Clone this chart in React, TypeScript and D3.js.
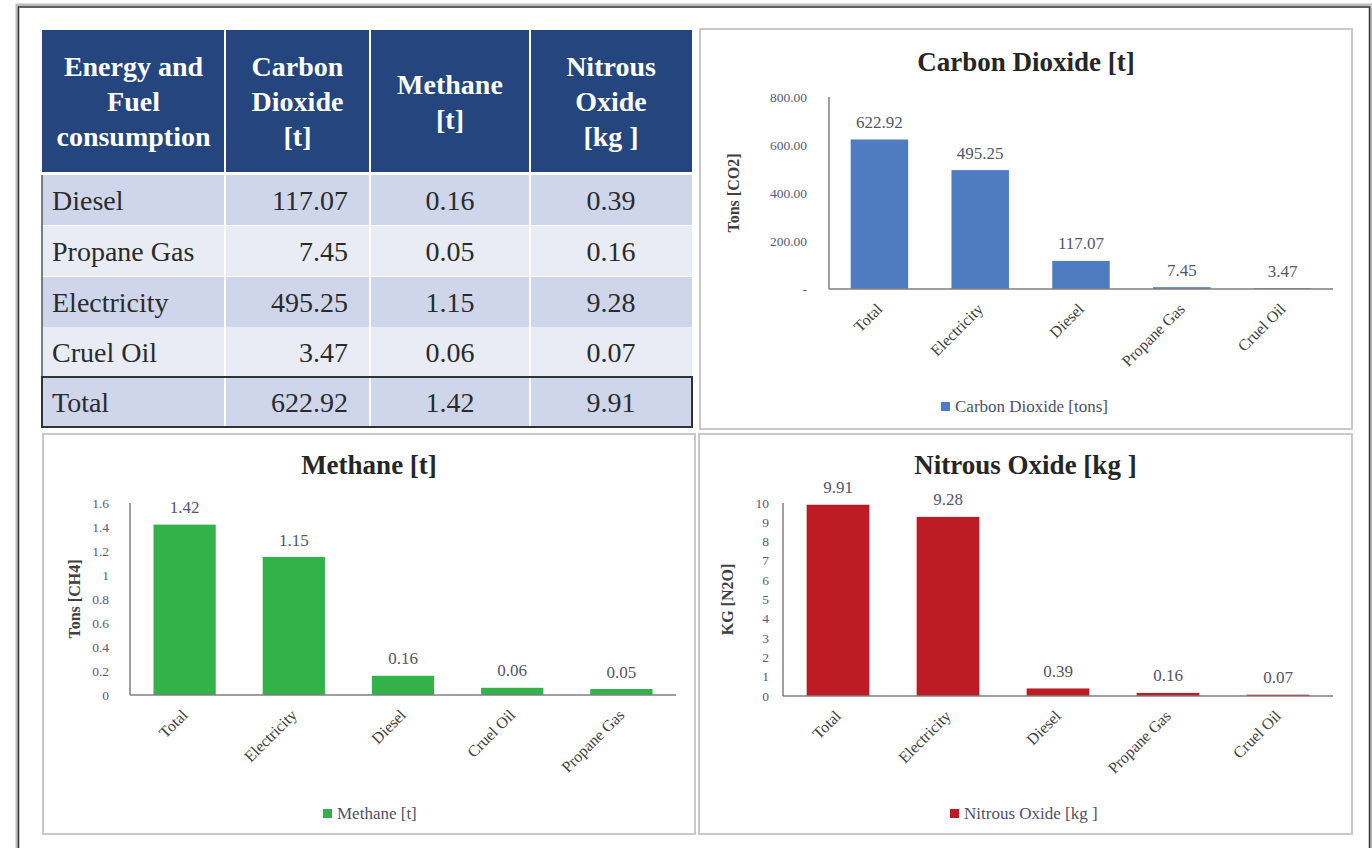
import React from "react";
import * as d3 from "d3";

// ---------- data ----------
const sources = ["Diesel", "Propane Gas", "Electricity", "Cruel Oil"];
const co2Values = [117.07, 7.45, 495.25, 3.47];
const ch4Values = [0.16, 0.05, 1.15, 0.06];
const n2oValues = [0.39, 0.16, 9.28, 0.07];
const totalLabel = "Total";
const co2Total = 622.92;
const ch4Total = 1.42;
const n2oTotal = 9.91;

const headerLines = [
  ["Energy and", "Fuel", "consumption"],
  ["Carbon", "Dioxide", "[t]"],
  ["Methane", "[t]"],
  ["Nitrous", "Oxide", "[kg ]"],
];

const co2Ticks = [0, 200, 400, 600, 800];
const ch4Ticks = [0, 0.2, 0.4, 0.6, 0.8, 1, 1.2, 1.4, 1.6];
const n2oTicks = [0, 1, 2, 3, 4, 5, 6, 7, 8, 9, 10];

const FONT = "Liberation Serif, Tinos, Times New Roman, DejaVu Serif, Noto Serif, serif";

function sortedSeries(values: number[], total: number) {
  const arr = [{ name: totalLabel, v: total }, ...sources.map((s, i) => ({ name: s, v: values[i] }))];
  return arr.sort((a, b) => b.v - a.v);
}

type ChartProps = {
  panel: { x: number; y: number; w: number; h: number };
  plot: { x0: number; x1: number; y0: number; y1: number };
  data: { name: string; v: number }[];
  max: number;
  ticks: number[];
  tickFmt: (v: number) => string;
  tickGap: number;
  color: string;
  title: string;
  titleY: number;
  yTitle: string;
  yTitleX: number;
  legend: string;
  legendX: number;
  legendY: number;
};

const T = (props: any) => <text {...props} style={{ fontFamily: FONT }} />;

function BarChart(p: ChartProps) {
  const x = d3
    .scaleBand<string>()
    .domain(p.data.map((d) => d.name))
    .range([p.plot.x0, p.plot.x1])
    .paddingInner(0.43)
    .paddingOuter(0.215);
  const y = d3.scaleLinear().domain([0, p.max]).range([p.plot.y1, p.plot.y0]);
  const cx = p.panel.x + p.panel.w / 2;
  return (
    <g>
      <rect x={p.panel.x} y={p.panel.y} width={p.panel.w} height={p.panel.h} fill="#fff" stroke="#c9c9c9" strokeWidth={2} />
      <T x={cx} y={p.titleY} textAnchor="middle" fontWeight="bold" fontSize={27} fill="#262626">
        {p.title}
      </T>
      <T
        transform={`translate(${p.yTitleX},${(p.plot.y0 + p.plot.y1) / 2}) rotate(-90)`}
        textAnchor="middle"
        fontWeight="bold"
        fontSize={16}
        fill="#404040"
      >
        {p.yTitle}
      </T>
      {p.ticks.map((t) => (
        <T key={t} x={p.plot.x0 - p.tickGap} y={y(t) + 4.5} textAnchor="end" fontSize={13.5} fill="#5a5a78">
          {p.tickFmt(t)}
        </T>
      ))}
      {p.data.map((d) => (
        <g key={d.name}>
          <rect x={x(d.name)!} y={y(d.v)} width={x.bandwidth()} height={p.plot.y1 - y(d.v)} fill={p.color} />
          <T x={x(d.name)! + x.bandwidth() / 2} y={y(d.v) - 11.5} textAnchor="middle" fontSize={17} fill="#55556a">
            {d.v.toFixed(2)}
          </T>
          <T
            transform={`translate(${x(d.name)! + x.bandwidth() / 2 + 4},${p.plot.y1 + 21}) rotate(-45)`}
            textAnchor="end"
            fontSize={16}
            fill="#404040"
          >
            {d.name}
          </T>
        </g>
      ))}
      <line x1={p.plot.x0} x2={p.plot.x0} y1={p.plot.y0} y2={p.plot.y1} stroke="#7f7f7f" strokeWidth={1.5} />
      <line x1={p.plot.x0} x2={p.plot.x1} y1={p.plot.y1} y2={p.plot.y1} stroke="#7f7f7f" strokeWidth={1.5} />
      <rect x={p.legendX} y={p.legendY - 10} width={9} height={9} fill={p.color} />
      <T x={p.legendX + 14} y={p.legendY} fontSize={17} fill="#505068">
        {p.legend}
      </T>
    </g>
  );
}

function Table() {
  const cols = [42, 225, 370, 530, 692];
  const top = 30;
  const headBottom = 172;
  const rowTops = [175, 226, 277, 327, 377];
  const rowH = 50;
  const rows = [
    ...sources.map((s, i) => [s, co2Values[i].toFixed(2), ch4Values[i].toFixed(2), n2oValues[i].toFixed(2)]),
    [totalLabel, co2Total.toFixed(2), ch4Total.toFixed(2), n2oTotal.toFixed(2)],
  ];
  const fills = ["#cfd5ea", "#e9ebf5", "#cfd5ea", "#e9ebf5", "#cfd5ea"];
  return (
    <g>
      <rect x={cols[0]} y={top} width={cols[4] - cols[0]} height={headBottom - top} fill="#24457d" />
      {headerLines.map((lines, c) => {
        const cxc = (cols[c] + cols[c + 1]) / 2;
        const lh = 35;
        const mid = (top + headBottom) / 2;
        const start = mid - ((lines.length - 1) * lh) / 2;
        return lines.map((ln, i) => (
          <T key={c + "-" + i} x={cxc} y={start + i * lh + 10} textAnchor="middle" fontWeight="bold" fontSize={28} fill="#ffffff">
            {ln}
          </T>
        ));
      })}
      {rows.map((r, ri) => (
        <g key={ri}>
          <rect x={cols[0]} y={rowTops[ri]} width={cols[4] - cols[0]} height={rowH} fill={fills[ri]} />
          <T x={cols[0] + 10} y={rowTops[ri] + 35} fontSize={28} fill="#2b2b2b">
            {r[0]}
          </T>
          <T x={cols[2] - 22} y={rowTops[ri] + 35} textAnchor="end" fontSize={28} fill="#2b2b2b">
            {r[1]}
          </T>
          <T x={(cols[2] + cols[3]) / 2} y={rowTops[ri] + 35} textAnchor="middle" fontSize={28} fill="#2b2b2b">
            {r[2]}
          </T>
          <T x={(cols[3] + cols[4]) / 2} y={rowTops[ri] + 35} textAnchor="middle" fontSize={28} fill="#2b2b2b">
            {r[3]}
          </T>
        </g>
      ))}
      {cols.slice(1, 4).map((c) => (
        <line key={c} x1={c} x2={c} y1={top} y2={428} stroke="#fff" strokeWidth={2} />
      ))}
      <line x1={cols[0]} x2={cols[0]} y1={175} y2={428} stroke="#555" strokeWidth={1.5} />
      <rect x={cols[0]} y={377} width={cols[4] - cols[0]} height={50} fill="none" stroke="#333" strokeWidth={2} />
    </g>
  );
}

export default function App() {
  return (
    <svg width={1372} height={848} style={{ position: "absolute", left: 0, top: 0, background: "#fff" }}>
      <rect x={0} y={0} width={1372} height={848} fill="#fff" />
      <rect x={17} y={5} width={1354} height={900} fill="none" stroke="#bdbdbd" strokeWidth={3} />
      <rect x={18.5} y={7} width={1351} height={900} fill="none" stroke="#333" strokeWidth={1.5} />
      <Table />
      <BarChart
        panel={{ x: 700, y: 29, w: 652, h: 400 }}
        plot={{ x0: 829, x1: 1333, y0: 97, y1: 289 }}
        data={sortedSeries(co2Values, co2Total)}
        max={800}
        ticks={co2Ticks}
        tickFmt={(v) => (v === 0 ? "-" : v.toFixed(2))}
        tickGap={22}
        color="#4f7bc2"
        title="Carbon Dioxide [t]"
        titleY={71}
        yTitle="Tons [CO2]"
        yTitleX={739}
        legend="Carbon Dioxide [tons]"
        legendX={941}
        legendY={412}
      />
      <BarChart
        panel={{ x: 43, y: 434, w: 652, h: 400 }}
        plot={{ x0: 130, x1: 676, y0: 503, y1: 695 }}
        data={sortedSeries(ch4Values, ch4Total)}
        max={1.6}
        ticks={ch4Ticks}
        tickFmt={(v) => String(+v.toFixed(1))}
        tickGap={21}
        color="#34b24a"
        title="Methane [t]"
        titleY={474}
        yTitle="Tons [CH4]"
        yTitleX={80}
        legend="Methane [t]"
        legendX={323}
        legendY={819}
      />
      <BarChart
        panel={{ x: 699, y: 434, w: 653, h: 400 }}
        plot={{ x0: 783, x1: 1333, y0: 503, y1: 696 }}
        data={sortedSeries(n2oValues, n2oTotal)}
        max={10}
        ticks={n2oTicks}
        tickFmt={(v) => String(v)}
        tickGap={14}
        color="#bd1c24"
        title="Nitrous Oxide [kg ]"
        titleY={474}
        yTitle="KG [N2O]"
        yTitleX={733}
        legend="Nitrous Oxide [kg ]"
        legendX={950}
        legendY={819}
      />
    </svg>
  );
}
